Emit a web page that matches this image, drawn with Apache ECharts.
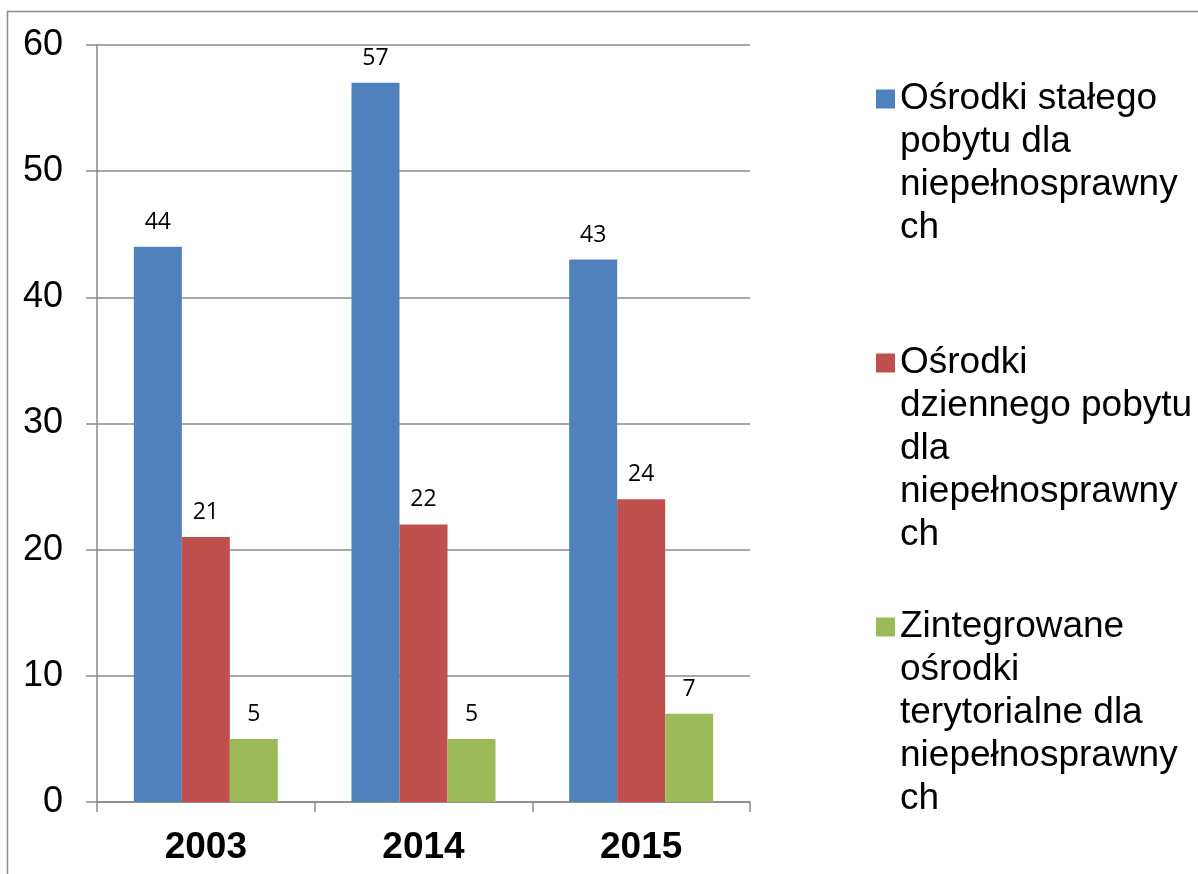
<!DOCTYPE html>
<html>
<head>
<meta charset="utf-8">
<script src="https://cdn.jsdelivr.net/npm/echarts@6/dist/echarts.min.js"></script>
<style>
  html, body { margin: 0; padding: 0; background: #fff; }
  #chart { width: 1198px; height: 874px; }
</style>
</head>
<body>
<div id="chart"></div>
<script>
var years = ['2003', '2014', '2015'];
var seriesNames = [
  'Ośrodki stałego pobytu dla niepełnosprawnych',
  'Ośrodki dziennego pobytu dla niepełnosprawnych',
  'Zintegrowane ośrodki terytorialne dla niepełnosprawnych'
];
// legend text wrapped the way the original does it
var legendLines = [
  ['Ośrodki stałego', 'pobytu dla', 'niepełnosprawny', 'ch'],
  ['Ośrodki', 'dziennego pobytu', 'dla', 'niepełnosprawny', 'ch'],
  ['Zintegrowane', 'ośrodki', 'terytorialne dla', 'niepełnosprawny', 'ch']
];
var stalego = [44, 57, 43];
var dziennego = [21, 22, 24];
var zintegrowane = [5, 5, 7];
var yTicks = [0, 10, 20, 30, 40, 50, 60];

var colors = ['#4F81BD', '#C0504D', '#9BBB59'];
var values = [stalego, dziennego, zintegrowane];
var gridColor = '#8a8a8a';
var lineH = 43;
var legendIconY = [99, 363, 627];

var dom = document.getElementById('chart');
var myChart = echarts.init(dom);

var seriesArr = [];
var legends = [];
for (let i = 0; i < seriesNames.length; i++) {
  seriesArr.push({
    name: seriesNames[i],
    type: 'bar',
    data: values[i],
    barWidth: 48,
    barGap: '0%',
    itemStyle: { color: colors[i] },
    label: {
      show: true,
      position: 'top',
      distance: 13,
      color: '#000',
      fontFamily: 'Open Sans',
      fontSize: 23
    }
  });
  // one legend per item; blank lines on top push the first line level with the marker
  var n = legendLines[i].length;
  legends.push({
    orient: 'vertical',
    left: 876,
    top: legendIconY[i] - (2 * n - 1) * lineH / 2,
    padding: 0,
    itemWidth: 19,
    itemHeight: 19,
    icon: 'rect',
    selectedMode: false,
    data: [seriesNames[i]],
    formatter: function (name) {
      var lines = legendLines[seriesNames.indexOf(name)];
      var pad = [];
      for (var k = 0; k < lines.length - 1; k++) pad.push(' ');
      return pad.concat(lines).join('\n');
    },
    textStyle: {
      fontFamily: 'Liberation Sans',
      fontSize: 37,
      color: '#000',
      lineHeight: lineH
    }
  });
}

var option = {
  animation: false,
  color: colors,
  grid: {
    left: 97,
    right: 448,
    top: 45,
    bottom: 72
  },
  legend: legends,
  xAxis: {
    type: 'category',
    data: years,
    axisLine: { lineStyle: { color: gridColor, width: 1.5 } },
    axisTick: { show: true, alignWithLabel: false, length: 10, lineStyle: { color: gridColor, width: 1.5 } },
    axisLabel: {
      margin: 27,
      color: '#000',
      fontFamily: 'Liberation Sans',
      fontWeight: 'bold',
      fontSize: 37
    }
  },
  yAxis: {
    type: 'value',
    min: yTicks[0],
    max: yTicks[yTicks.length - 1],
    interval: 10,
    axisLine: { show: true, lineStyle: { color: gridColor, width: 1.5 } },
    axisTick: { show: true, length: 11, lineStyle: { color: gridColor, width: 1.5 } },
    splitLine: { lineStyle: { color: gridColor, width: 1.5 } },
    axisLabel: {
      margin: 34,
      color: '#000',
      fontFamily: 'Liberation Sans',
      fontSize: 36
    }
  },
  graphic: [{
    type: 'rect',
    shape: { x: 7.5, y: 11.5, width: 1400, height: 1000 },
    style: { fill: null, stroke: gridColor, lineWidth: 1.5 },
    silent: true
  }],
  series: seriesArr
};

myChart.setOption(option, true);
window.onresize = myChart.resize;
</script>
</body>
</html>
